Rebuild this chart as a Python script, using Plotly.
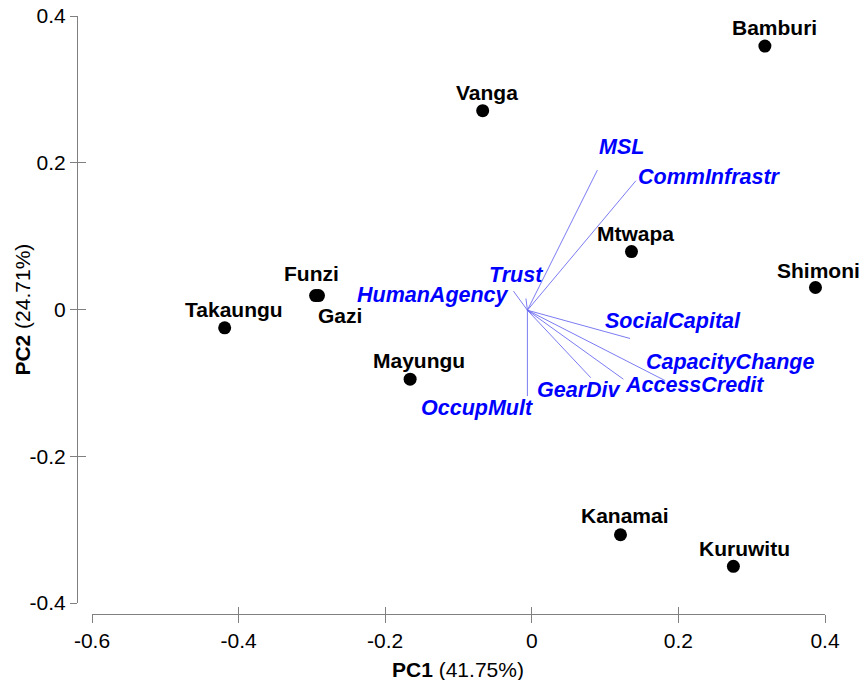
import plotly.graph_objects as go

# ---- data ----
sites = ["Bamburi", "Vanga", "Mtwapa", "Shimoni", "Funzi", "Gazi",
         "Takaungu", "Mayungu", "Kanamai", "Kuruwitu"]
pc1 = [0.318, -0.067, 0.136, 0.387, -0.295, -0.291, -0.419, -0.166, 0.121, 0.275]
pc2 = [0.359, 0.271, 0.079, 0.030, 0.019, 0.019, -0.025, -0.095, -0.307, -0.350]

variables = ["MSL", "CommInfrastr", "Trust", "HumanAgency", "SocialCapital",
             "CapacityChange", "AccessCredit", "GearDiv", "OccupMult"]
load1 = [0.0895, 0.142, -0.008, -0.025, 0.134, 0.182, 0.125, 0.0805, -0.006]
load2 = [0.190, 0.1755, 0.015, 0.025, -0.0395, -0.097, -0.095, -0.093, -0.118]
origin_x = [-0.006]
origin_y = [-0.001]

tick_vals = [-0.6, -0.4, -0.2, 0, 0.2, 0.4]
x_tick_text = ["-0.6", "-0.4", "-0.2", "0", "0.2", "0.4"]
y_tick_vals = [-0.4, -0.2, 0, 0.2, 0.4]
y_tick_text = ["-0.4", "-0.2", "0", "0.2", "0.4"]

# ---- label offsets (pixels) ----
site_shift = {
    "Bamburi": (10, 19), "Vanga": (4, 18), "Mtwapa": (4, 18), "Shimoni": (3, 17),
    "Funzi": (-4, 22), "Gazi": (21, -20), "Takaungu": (9, 18), "Mayungu": (9, 19),
    "Kanamai": (5, 19), "Kuruwitu": (11, 18),
}
var_shift = {
    "MSL": (24, 23), "CommInfrastr": (74, 4), "Trust": (-10, 23),
    "HumanAgency": (-80, -4), "SocialCapital": (43, 17), "CapacityChange": (65, 19),
    "AccessCredit": (71, -6), "GearDiv": (-12, -12), "OccupMult": (-50, -12),
}

FONT = "Liberation Sans, Arial, sans-serif"
AXIS_GREY = "#808080"

fig = go.Figure()

# loading vectors
vx, vy = [], []
for a, b in zip(load1, load2):
    vx += [origin_x[0], a, None]
    vy += [origin_y[0], b, None]
fig.add_trace(go.Scatter(x=vx, y=vy, mode="lines",
                         line=dict(color="rgba(100,100,240,0.85)", width=1),
                         hoverinfo="skip", showlegend=False))

# sites
fig.add_trace(go.Scatter(x=pc1, y=pc2, mode="markers", text=sites,
                         marker=dict(color="black", size=13),
                         showlegend=False, cliponaxis=False))

# invisible trace for overlay tick axes
fig.add_trace(go.Scatter(x=[tick_vals[0]], y=[y_tick_vals[0]], xaxis="x2", yaxis="y2",
                         mode="markers", marker=dict(opacity=0), hoverinfo="skip",
                         showlegend=False))

annotations = []
for s, x, y in zip(sites, pc1, pc2):
    dx, dy = site_shift[s]
    annotations.append(dict(x=x, y=y, xref="x", yref="y", text=s, showarrow=False,
                            xshift=dx, yshift=dy, xanchor="center", yanchor="middle",
                            font=dict(family=FONT, size=21, color="black", weight="bold")))
for v, x, y in zip(variables, load1, load2):
    dx, dy = var_shift[v]
    annotations.append(dict(x=x, y=y, xref="x", yref="y",
                            text="<b><i>%s</i></b>" % v, showarrow=False,
                            xshift=dx, yshift=dy, xanchor="center", yanchor="middle",
                            font=dict(family=FONT, size=21.5, color="#0000ff")))

# axis titles
annotations.append(dict(x=0.509, y=-0.093, xref="paper", yref="paper",
                        text="<b>PC1</b> (41.75%)", showarrow=False,
                        xanchor="center", yanchor="middle",
                        font=dict(family=FONT, size=21, color="black")))
annotations.append(dict(x=-0.0722, y=0.509, xref="paper", yref="paper",
                        text="<b>PC2</b> (24.71%)", showarrow=False, textangle=-90,
                        xanchor="center", yanchor="middle",
                        font=dict(family=FONT, size=21, color="black")))

W, H = 863, 680
ml, mr, mt, mb = 77, 38, 16, 66
pw = W - ml - mr
ph = H - mt - mb
xdom = [15 / pw, 1]
ydom = [11 / ph, 1]

common = dict(showgrid=False, zeroline=False, automargin=False,
              tickfont=dict(family=FONT, size=21, color="black"))

fig.update_layout(
    width=W, height=H,
    margin=dict(l=ml, r=mr, t=mt, b=mb, pad=0, autoexpand=False),
    paper_bgcolor="white", plot_bgcolor="white",
    showlegend=False,
    annotations=annotations,
    xaxis=dict(domain=xdom, range=[-0.6, 0.4], anchor="free", position=0,
               showline=True, linecolor=AXIS_GREY, linewidth=1,
               ticks="outside", ticklen=8, tickcolor=AXIS_GREY, tickwidth=1,
               tickvals=tick_vals, ticktext=x_tick_text, **common),
    yaxis=dict(domain=ydom, range=[-0.4, 0.4], anchor="free", position=0,
               showline=True, linecolor=AXIS_GREY, linewidth=1,
               ticks="outside", ticklen=7, tickcolor=AXIS_GREY, tickwidth=1,
               tickvals=y_tick_vals, ticktext=y_tick_text, **common),
    xaxis2=dict(domain=xdom, range=[-0.6, 0.4], anchor="free", position=0,
                overlaying="x", showline=False, showticklabels=False, automargin=False,
                ticks="inside", ticklen=7, tickcolor=AXIS_GREY, tickwidth=1,
                tickvals=tick_vals, showgrid=False, zeroline=False),
    yaxis2=dict(domain=ydom, range=[-0.4, 0.4], anchor="free", position=0,
                overlaying="y", showline=False, showticklabels=False, automargin=False,
                ticks="inside", ticklen=8, tickcolor=AXIS_GREY, tickwidth=1,
                tickvals=y_tick_vals, showgrid=False, zeroline=False),
)

fig.write_html("out.html", config={"displayModeBar": False},
               post_script="document.body.style.margin='0';")
